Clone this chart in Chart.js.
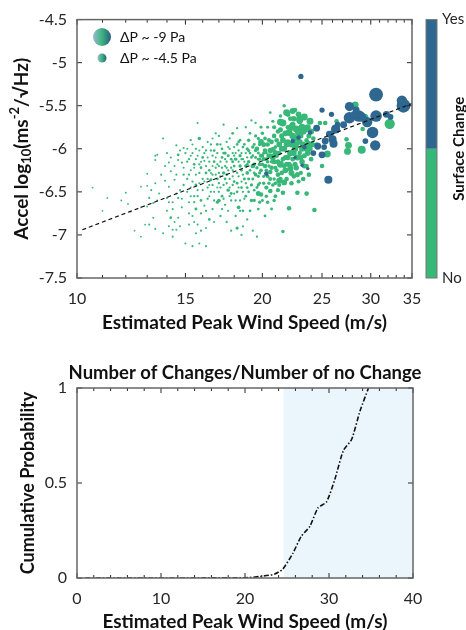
<!DOCTYPE html>
<html>
<head>
<meta charset="utf-8">
<script src="https://cdn.jsdelivr.net/npm/chart.js@4.4.1/dist/chart.umd.min.js"></script>
<style>
  body { margin: 0; background: #fff; }
  canvas { position: absolute; left: 0; }
  #top { top: 0; }
  #bottom { top: 340px; }
</style>
</head>
<body>
<canvas id="top" width="466" height="340"></canvas>
<canvas id="bottom" width="466" height="290"></canvas>
<script>
// [wind m/s, accel log10, pressure drop |dP| Pa]
var noChangePts = [
  [10.6,-6.45,0.8],[11.0,-6.72,0.8],[11.2,-6.57,0.8],[11.8,-6.6,0.8],[12.0,-6.51,0.8],[12.2,-6.73,0.8],
  [12.4,-6.95,0.8],[12.7,-7.02,0.8],[12.7,-6.44,0.8],[12.1,-6.64,0.8],[12.7,-6.68,0.8],[13.0,-6.43,0.8],
  [13.0,-6.29,0.8],[13.0,-6.67,0.8],[12.9,-6.88,0.8],
  [13.1,-6.57,0.9],[13.3,-6.63,0.9],[13.5,-6.6,0.9],[13.4,-6.08,0.9],[13.8,-5.88,0.9],[13.5,-6.07,0.9],
  [14.0,-6.05,0.9],[14.6,-6.07,1.2],[14.9,-5.99,0.9],[13.4,-6.13,0.9],[14.1,-6.16,0.9],[14.6,-6.13,0.9],
  [14.8,-6.16,1.0],[14.2,-6.26,0.9],[14.5,-6.3,0.9],[13.7,-6.3,0.9],[13.4,-6.4,0.9],[13.2,-6.48,0.9],
  [13.9,-6.37,0.9],[14.1,-6.44,0.9],[14.4,-6.36,0.9],[14.0,-6.57,0.9],[14.3,-6.62,0.9],[14.6,-6.57,1.0],
  [14.8,-6.68,0.9],[14.3,-6.7,0.9],[14.2,-6.8,1.2],[14.6,-6.8,0.9],[13.3,-6.8,0.9],[13.1,-6.88,0.9],
  [14.1,-6.9,0.9],[14.3,-6.94,0.9],[13.4,-6.93,0.9],[13.8,-6.98,0.9],[14.3,-7.02,0.9],[14.5,-6.94,0.9],
  [14.5,-5.96,0.9],[14.9,-6.22,0.9],[14.7,-6.48,0.9],[13.6,-6.52,0.9],[14.9,-6.42,1.0],[14.0,-6.72,0.9],
  [14.2,-6.1,0.9],[14.4,-6.2,0.9],[14.7,-6.02,0.9],[14.9,-6.3,1.0],[14.5,-6.52,0.9],[14.8,-6.58,0.9],
  [14.1,-6.62,0.9],[14.4,-6.85,0.9],[13.9,-6.2,0.9],[14.7,-6.9,0.9],
  [15.0,-7.1,0.9],[15.4,-7.13,0.9],[15.8,-7.1,0.9],[16.2,-7.13,0.9],[15.7,-5.7,0.9],[15.8,-5.88,1.5],
  [16.6,-5.88,0.9],[15.1,-6.0,0.9],[15.2,-6.12,1.0],[15.3,-6.25,0.9],[15.1,-6.35,1.0],[15.4,-6.05,0.9],
  [15.5,-6.18,1.2],[15.6,-6.3,0.9],[15.3,-6.45,0.9],[15.5,-6.55,1.0],[15.2,-6.62,0.9],[15.6,-6.7,1.3],
  [15.4,-6.78,0.9],[15.7,-6.88,0.9],[15.9,-6.95,1.0],[15.8,-6.4,0.9],[15.9,-6.22,1.2],[15.7,-6.08,0.9],
  [16.0,-5.98,1.0],[16.1,-6.14,0.9],[16.2,-6.28,1.2],[16.0,-6.48,0.9],[16.3,-6.58,1.0],[16.1,-6.66,0.9],
  [16.4,-6.82,1.2],[16.2,-6.92,0.9],[16.5,-6.02,1.0],[16.6,-6.2,0.9],[16.5,-6.36,1.3],[16.7,-6.5,0.9],
  [16.6,-6.7,1.0],[16.8,-6.1,0.9],[16.9,-5.95,1.2],[16.8,-6.3,1.0],[16.9,-6.45,0.9],[16.7,-6.85,0.9],
  [16.4,-6.42,0.9],[15.9,-6.6,1.2],[16.3,-5.92,0.9],[15.6,-6.98,0.9],[16.9,-6.62,1.4],[16.0,-6.35,1.0],
  [15.2,-6.88,0.9],
  [15.1,-6.15,1.0],[15.3,-6.08,0.9],[15.2,-6.3,0.9],[15.4,-6.38,1.0],[15.5,-6.22,0.9],[15.6,-6.12,0.9],
  [15.3,-6.55,0.9],[15.5,-6.62,1.0],[15.7,-6.48,0.9],[15.8,-6.28,1.0],[15.9,-6.15,0.9],[15.1,-6.5,0.9],
  [15.6,-6.42,1.2],[15.4,-5.95,0.9],[15.8,-6.02,0.9],[15.9,-6.75,1.0],[15.2,-6.75,0.9],[15.5,-6.85,0.9],
  [16.1,-6.05,1.0],[16.3,-6.1,0.9],[16.2,-6.2,1.0],[16.4,-6.25,1.2],[16.1,-6.38,0.9],[16.3,-6.45,1.0],
  [16.6,-6.08,1.0],[16.7,-6.15,1.2],[16.5,-6.28,0.9],[16.8,-6.22,1.0],[16.6,-6.42,1.0],[16.9,-6.35,1.2],
  [16.4,-6.55,0.9],[16.7,-6.6,1.0],[16.2,-6.72,1.0],[16.9,-6.05,1.0],[16.8,-5.82,1.0],
  [15.0,-6.05,1.0],[15.3,-5.9,1.0],[15.6,-6.0,1.0],[15.8,-6.18,1.0],[16.0,-6.1,1.2],[16.2,-6.02,1.0],
  [16.4,-6.15,1.0],[16.5,-5.95,1.0],[16.7,-6.02,1.2],[16.9,-6.18,1.0],[16.3,-6.35,1.0],[16.6,-6.3,1.0],
  [15.7,-6.55,1.0],[16.5,-6.5,1.0],
  [17.0,-5.85,1.0],[17.2,-6.0,1.2],[17.1,-6.15,1.0],[17.3,-6.28,1.4],[17.0,-6.4,1.0],[17.2,-6.55,1.2],
  [17.4,-6.65,1.0],[17.1,-6.78,1.0],[17.5,-5.92,1.0],[17.6,-6.08,1.3],[17.5,-6.22,1.0],[17.7,-6.35,1.0],
  [17.6,-6.48,1.5],[17.8,-6.6,1.0],[17.5,-6.85,1.0],[17.9,-5.82,1.2],[18.0,-5.98,1.0],[18.1,-6.12,1.5],
  [17.9,-6.25,1.0],[18.2,-6.4,1.2],[18.0,-6.52,1.0],[18.3,-6.68,1.6],[18.1,-6.78,1.0],[18.4,-5.9,1.2],
  [18.5,-6.05,1.0],[18.4,-6.2,1.5],[18.6,-6.3,1.0],[18.5,-6.45,1.2],[18.7,-6.58,1.0],[18.8,-5.75,1.0],
  [18.9,-6.0,1.4],[18.7,-6.15,1.0],[18.9,-6.28,1.6],[18.8,-6.4,1.0],[18.6,-6.72,1.2],[18.9,-6.82,1.0],
  [17.3,-5.72,1.0],[18.2,-5.76,1.0],[17.8,-6.95,1.0],[18.5,-7.0,1.0],[17.4,-6.12,1.0],[18.3,-6.32,1.0],
  [17.0,-6.6,1.6],[18.6,-6.9,1.0],[18.2,-6.92,1.4],
  [17.0,-6.2,1.0],[17.2,-6.1,1.2],[17.1,-6.32,1.0],[17.3,-6.42,1.0],[17.2,-6.22,1.0],[17.4,-6.05,1.4],
  [17.5,-6.15,1.0],[17.4,-6.35,1.2],[17.6,-6.25,1.0],[17.7,-6.0,1.0],[17.8,-6.12,1.2],[17.7,-6.45,1.0],
  [17.9,-6.32,1.0],[17.8,-6.52,1.3],[17.6,-6.72,1.0],[17.3,-6.58,1.0],[17.9,-6.05,1.0],[17.0,-6.5,1.0],
  [17.5,-6.4,1.0],[17.2,-6.7,1.0],[17.7,-5.88,1.0],
  [17.1,-5.95,1.0],[17.3,-6.05,1.2],[17.4,-6.2,1.0],[17.6,-5.98,1.0],[17.8,-6.22,1.0],[17.9,-6.15,1.3],
  [17.0,-6.28,1.0],[17.5,-6.3,1.2],[17.9,-6.42,1.0],[17.1,-6.45,1.0],[17.7,-6.55,1.0],
  [18.0,-6.2,1.2],[18.1,-6.05,1.0],[18.2,-6.28,1.0],[18.0,-6.38,1.2],[18.3,-6.15,1.0],[18.4,-6.08,1.4],
  [18.3,-6.45,1.0],[18.5,-6.25,1.2],[18.6,-6.12,1.0],[18.7,-6.35,1.3],[18.6,-6.5,1.0],[18.8,-6.2,1.5],
  [18.9,-6.1,1.0],[18.8,-6.55,1.2],[18.4,-6.6,1.0],[18.1,-6.6,1.0],[18.7,-5.95,1.2],[18.3,-5.92,1.2],
  [18.0,-6.08,1.0],[18.2,-5.95,1.2],[18.3,-6.02,1.0],[18.5,-6.12,1.0],[18.6,-5.98,1.2],[18.8,-6.05,1.0],
  [18.9,-6.18,1.2],[18.2,-6.5,1.2],[18.5,-6.38,1.0],[18.9,-6.45,1.2],[18.4,-6.72,1.0],
  [19.0,-5.9,1.5],[19.1,-6.05,1.2],[19.2,-5.67,1.0],[19.5,-5.7,1.0],[19.3,-6.2,2.0],[19.0,-6.35,1.3],
  [19.4,-6.48,1.2],[19.2,-6.6,1.5],[19.5,-5.85,1.4],[19.6,-6.0,2.0],[19.7,-6.12,1.3],[19.5,-6.3,1.6],
  [19.8,-6.4,1.2],[19.9,-6.53,2.0],[19.7,-6.7,1.2],[19.3,-6.95,1.0],[19.6,-7.02,1.0],[20.0,-5.82,1.5],
  [20.1,-5.95,2.2],[20.0,-6.08,1.6],[20.2,-6.2,2.0],[20.1,-6.32,1.4],[20.3,-6.45,1.8],[20.0,-6.6,1.3],
  [20.4,-5.75,1.3],[20.5,-5.9,1.8],[20.6,-6.02,2.4],[20.4,-6.15,1.6],[20.6,-6.27,2.0],[20.5,-6.4,1.5],
  [20.6,-6.49,2.0],[20.8,-5.68,1.4],[20.9,-5.85,2.0],[21.0,-5.98,1.6],[20.8,-6.1,2.5],[21.0,-6.22,1.8],
  [20.9,-6.35,1.5],[21.0,-6.55,1.6],[20.7,-6.7,1.3],[19.8,-6.18,1.6],[20.3,-6.05,1.3],[20.7,-6.15,1.5],
  [19.4,-5.95,1.3],[20.2,-6.78,1.2],[19.9,-5.75,1.3],[20.6,-5.58,1.2],
  [19.0,-6.15,1.5],[19.1,-6.25,1.2],[19.2,-6.42,1.4],[19.3,-6.08,1.2],[19.4,-6.18,1.6],[19.5,-6.1,1.3],
  [19.6,-6.22,1.5],[19.7,-6.32,1.4],[19.8,-5.95,1.5],[19.9,-6.08,1.8],[19.6,-6.45,1.3],[19.1,-5.82,1.2],
  [19.3,-5.98,1.5],[19.8,-6.28,1.4],[19.0,-6.5,1.2],[19.4,-6.6,1.4],[19.7,-5.88,1.4],[19.9,-6.25,1.6],
  [19.0,-6.02,1.4],[19.2,-6.1,1.2],[19.4,-6.28,1.2],[19.5,-6.02,1.5],[19.7,-6.05,1.3],[19.8,-6.12,1.5],
  [19.3,-6.35,1.3],[19.7,-6.42,1.4],[19.1,-6.72,1.2],[19.8,-6.62,1.4],[19.7,-6.52,2.2],[19.9,-5.92,2.5],
  [20.1,-6.12,1.8],[20.2,-6.02,2.0],[20.3,-6.25,1.6],[20.4,-5.95,2.0],[20.5,-6.08,2.2],[20.7,-5.92,2.0],
  [20.8,-6.0,1.8],[20.7,-6.22,2.0],[20.9,-6.15,2.2],[21.0,-6.05,2.5],[20.2,-5.88,1.6],[20.6,-6.35,1.8],
  [20.9,-5.75,1.8],[20.3,-6.55,1.5],[21.0,-6.4,1.6],
  [20.0,-6.18,1.6],[20.1,-6.05,1.4],[20.3,-6.12,1.6],[20.5,-6.2,1.5],[20.7,-6.08,1.8],[20.9,-6.02,1.6],
  [20.1,-6.4,1.5],[20.4,-6.32,1.6],[20.8,-6.42,1.6],[20.4,-6.62,1.5],[20.9,-6.6,1.5],
  [21.2,-5.8,2.0],[21.3,-5.95,2.5],[21.1,-6.08,2.0],[21.4,-6.18,3.0],[21.2,-6.3,2.0],[21.3,-6.42,1.8],
  [21.6,-5.7,3.0],[21.5,-5.85,2.2],[21.7,-6.0,2.6],[21.6,-6.12,2.0],[21.8,-6.25,2.5],[21.7,-6.39,2.5],
  [21.6,-6.51,2.0],[21.7,-5.5,1.5],[21.6,-6.96,1.5],[21.9,-5.58,3.0],[22.0,-5.75,2.0],[22.1,-5.81,3.0],
  [22.0,-5.92,2.4],[22.2,-6.05,2.8],[22.1,-6.18,2.2],[22.3,-6.28,2.6],[22.1,-6.69,2.0],[22.6,-5.55,2.0],
  [22.4,-5.72,2.5],[22.7,-5.77,3.0],[22.5,-5.9,2.2],[22.6,-6.0,2.8],[22.4,-6.12,2.0],[22.7,-6.22,2.4],
  [22.5,-6.32,2.0],[22.8,-6.51,2.0],[23.0,-5.68,2.5],[23.4,-5.63,3.0],[23.1,-5.85,2.2],[23.3,-5.95,2.6],
  [23.0,-6.05,2.0],[23.2,-6.15,2.4],[23.5,-5.77,3.0],[23.6,-5.9,2.0],[23.4,-6.08,2.2],[23.6,-6.2,2.0],
  [23.6,-6.52,2.0],[23.9,-5.68,3.0],[23.8,-5.85,2.2],[23.9,-6.0,2.4],[24.0,-6.12,2.0],[24.3,-6.71,2.0],
  [24.2,-5.88,2.0],[22.2,-5.65,2.0],[21.4,-5.62,1.5],[22.9,-6.38,1.8],[21.9,-6.35,2.0],[23.1,-6.28,1.8],
  [21.1,-5.9,2.0],[21.2,-6.15,2.2],[21.1,-6.25,1.8],[21.3,-6.05,2.0],[21.4,-5.78,2.2],[21.5,-6.0,2.4],
  [21.5,-6.28,2.0],[21.6,-5.9,2.5],[21.8,-6.1,2.2],[21.9,-5.95,2.6],[21.9,-6.18,2.2],[21.2,-6.48,1.8],
  [21.4,-6.35,2.0],[21.8,-5.82,2.5],[21.7,-6.2,2.0],
  [22.0,-6.1,2.4],[22.3,-5.95,2.6],[22.2,-6.2,2.2],[22.4,-5.85,2.8],[22.5,-6.05,2.5],[22.7,-5.95,2.4],
  [22.8,-6.1,2.6],[22.6,-6.18,2.2],[22.9,-5.8,2.8],[23.0,-5.92,2.5],[23.2,-6.0,2.6],[23.1,-6.1,2.2],
  [23.3,-5.8,2.8],[23.5,-6.0,2.4],[23.4,-6.2,2.2],[23.7,-6.05,2.5],[22.3,-6.4,2.0],[22.8,-6.3,2.2],
  [23.3,-6.35,2.0],[22.0,-5.6,2.2],[22.9,-5.6,2.5],[23.7,-5.75,2.6],[24.1,-5.95,2.4],[24.0,-5.8,2.6],
  [22.5,-5.65,2.4],[23.8,-6.3,2.0],
  [21.4,-5.69,3.0],[22.3,-5.75,3.0],[23.0,-5.66,3.2],[22.9,-5.81,3.0],[22.4,-5.56,2.6],[21.3,-6.37,2.6],
  [22.2,-6.23,2.6],[23.8,-5.95,3.0],[22.6,-5.88,3.0],[23.2,-5.75,3.0],
  [24.8,-5.7,2.0],[25.3,-5.7,2.0],[25.5,-6.06,3.0],[25.9,-5.82,2.5],[26.4,-5.68,2.0],[27.4,-5.89,2.0],
  [27.6,-5.96,3.0],[27.5,-6.03,3.0],[28.3,-5.49,3.0],[29.3,-5.64,3.5],[29.1,-5.77,2.0],[29.0,-6.01,3.5],
  [32.2,-5.71,4.5],[24.5,-5.95,2.0],[25.0,-6.2,2.0]
];
var changePts = [
  [23.1,-5.16,2.3],[30.6,-5.37,6.0],[33.9,-5.5,6.0],[33.7,-5.44,4.5],[27.7,-5.51,4.0],[27.7,-5.64,5.0],
  [28.7,-5.62,5.0],[29.6,-5.69,4.5],[30.6,-5.62,5.0],[31.8,-5.6,3.0],[32.3,-5.63,2.5],[30.2,-5.81,5.0],
  [30.5,-5.96,4.5],[29.4,-5.91,2.5],[25.0,-5.55,2.3],[25.9,-5.6,2.3],[27.1,-5.72,3.0],[26.3,-5.77,4.0],
  [25.7,-5.83,3.0],[24.5,-5.76,3.0],[26.0,-5.89,3.5],[25.3,-5.91,3.0],[26.1,-5.94,3.5],[24.6,-5.97,3.0],
  [25.0,-6.07,3.0],[24.2,-6.05,2.5],[25.6,-6.36,3.5],[25.2,-5.98,2.5],[22.4,-5.91,2.0],[22.9,-5.87,2.0],
  [23.4,-5.98,2.0],[23.2,-6.19,1.5],[23.7,-6.23,1.5],[22.6,-6.1,1.5],[20.3,-6.29,2.0],[23.9,-5.81,2.0],
  [28.2,-5.6,3.0],[29.0,-5.63,4.0],[26.5,-5.72,2.5],[28.4,-5.55,3.0]
];
var fitWind = [10.2, 35];
var fitAccel = [-6.94, -5.475];
var windTicks = [10, 15, 20, 25, 30, 35];
var windMinor = [11,12,13,14,16,17,18,19,21,22,23,24,26,27,28,29,31,32,33,34];
var legendDrops = [9, 4.5];
var legendLabels = ['ΔP ~ -9 Pa', 'ΔP ~ -4.5 Pa'];

var cumWind = [1, 20, 21.8, 23.5, 24.5, 25.7, 26.7, 27.7, 28.7, 29.7, 30.7, 31.7, 32.7, 33.7, 34.7];
var cumProb = [0, 0.001, 0.008, 0.02, 0.047, 0.13, 0.22, 0.27, 0.37, 0.40, 0.52, 0.67, 0.73, 0.88, 1.0];
var shadeFrom = 24.6;
var cumMinor = [2,4,6,8,12,14,16,18,22,24,26,28,32,34,36,38];

var GREEN = '#38b878';
var BLUE = '#2e6790';
var FONT = 'Lato, "Open Sans", sans-serif';
var TXT = '#262626';

function bubbles(pts) {
  return pts.map(p => ({x: p[0], y: p[1], r: p[2] * 1.15}));
}

function frame(minorX) {
  return {
    id: 'frame',
    afterDatasetsDraw(chart) {
      var ctx = chart.ctx, a = chart.chartArea, x = chart.scales.x, y = chart.scales.y;
      ctx.save();
      ctx.strokeStyle = TXT;
      ctx.lineWidth = 1;
      function seg(x1, y1, x2, y2) { ctx.beginPath(); ctx.moveTo(x1, y1); ctx.lineTo(x2, y2); ctx.stroke(); }
      x.ticks.forEach(t => { var p = x.getPixelForValue(t.value); seg(p, a.bottom, p, a.bottom - 5); seg(p, a.top, p, a.top + 5); });
      minorX.forEach(v => { var p = x.getPixelForValue(v); seg(p, a.bottom, p, a.bottom - 3); seg(p, a.top, p, a.top + 3); });
      y.ticks.forEach(t => { var p = y.getPixelForValue(t.value); seg(a.left, p, a.left + 5, p); seg(a.right, p, a.right - 5, p); });
      ctx.strokeStyle = '#666';
      ctx.lineWidth = 1.5;
      ctx.strokeRect(a.left, a.top, a.right - a.left, a.bottom - a.top);
      ctx.restore();
    }
  };
}

var topDecor = {
  id: 'topDecor',
  afterDraw(chart) {
    var ctx = chart.ctx, a = chart.chartArea;
    ctx.save();
    // legend
    var cx = 102, rows = [37, 58];
    legendDrops.forEach((d, i) => {
      var g = ctx.createLinearGradient(cx - d, 0, cx + d, 0);
      g.addColorStop(0, '#9cb9d4');
      g.addColorStop(0.5, '#3bb47c');
      g.addColorStop(1, '#2b5d85');
      ctx.fillStyle = g;
      ctx.beginPath(); ctx.arc(cx, rows[i], d, 0, Math.PI * 2); ctx.fill();
      ctx.fillStyle = '#111';
      ctx.font = '14px ' + FONT;
      ctx.textBaseline = 'middle';
      ctx.textAlign = 'left';
      ctx.fillText(legendLabels[i], 120, rows[i]);
    });
    // colorbar
    var bx = 426, bw = 11, mid = (a.top + a.bottom) / 2;
    ctx.fillStyle = BLUE; ctx.fillRect(bx, a.top, bw, mid - a.top);
    ctx.fillStyle = GREEN; ctx.fillRect(bx, mid, bw, a.bottom - mid);
    ctx.strokeStyle = '#777'; ctx.lineWidth = 1;
    ctx.strokeRect(bx, a.top, bw, a.bottom - a.top);
    ctx.fillStyle = TXT;
    ctx.font = '15px ' + FONT;
    ctx.fillText('Yes', 442, a.top);
    ctx.fillText('No', 442, a.bottom);
    ctx.save();
    ctx.translate(459, mid);
    ctx.rotate(-Math.PI / 2);
    ctx.textAlign = 'center';
    ctx.font = 'bold 15px ' + FONT;
    ctx.fillStyle = '#111';
    ctx.fillText('Surface Change', 0, 0);
    ctx.restore();
    // y title with sub/superscript
    ctx.save();
    ctx.translate(22, (a.top + a.bottom) / 2);
    ctx.rotate(-Math.PI / 2);
    ctx.fillStyle = '#111';
    ctx.textBaseline = 'middle';
    var parts = [['Accel log', 19, 0], ['10', 13, 5], ['(ms', 19, 0], ['-2', 13, -7], ['/\u221AHz)', 19, 0]];
    var total = 0;
    parts.forEach(p => { ctx.font = 'bold ' + p[1] + 'px ' + FONT; total += ctx.measureText(p[0]).width; });
    var px = -total / 2;
    ctx.textAlign = 'left';
    parts.forEach(p => { ctx.font = 'bold ' + p[1] + 'px ' + FONT; ctx.fillText(p[0], px, p[2]); px += ctx.measureText(p[0]).width; });
    ctx.restore();
    ctx.restore();
  }
};

var shade = {
  id: 'shade',
  beforeDatasetsDraw(chart) {
    var ctx = chart.ctx, a = chart.chartArea, x = chart.scales.x;
    ctx.save();
    ctx.fillStyle = '#eaf6fc';
    var p = x.getPixelForValue(shadeFrom);
    ctx.fillRect(p, a.top, a.right - p, a.bottom - a.top);
    ctx.restore();
  },
  afterDraw(chart) {
    var ctx = chart.ctx;
    ctx.save();
    ctx.font = 'bold 18.5px ' + FONT;
    ctx.fillStyle = '#111';
    ctx.textAlign = 'center';
    ctx.textBaseline = 'middle';
    ctx.fillText('Number of Changes/Number of no Change', 245, 33);
    ctx.restore();
  }
};

var tickFont = {family: FONT, size: 16};
var fmt = v => String(Math.round(v * 100) / 100);

new Chart(document.getElementById('top'), {
  type: 'bubble',
  data: {
    datasets: [
      {
        type: 'scatter',
        data: fitWind.map((w, i) => ({x: w, y: fitAccel[i]})),
        showLine: true,
        borderColor: '#111',
        borderWidth: 1.2,
        borderDash: [4, 3],
        pointRadius: 0,
        order: 0
      },
      {data: bubbles(changePts), backgroundColor: BLUE, borderWidth: 0, order: 1},
      {data: bubbles(noChangePts), backgroundColor: GREEN, borderWidth: 0, order: 2}
    ]
  },
  options: {
    responsive: false,
    animation: false,
    events: [],
    layout: {padding: {top: 18, right: 54, left: 0, bottom: 0}},
    plugins: {legend: {display: false}, tooltip: {enabled: false}},
    scales: {
      x: {
        type: 'logarithmic', min: 10, max: 35,
        afterBuildTicks: s => { s.ticks = windTicks.map(v => ({value: v})); },
        afterFit: s => { s.height = 62; },
        grid: {display: false, drawTicks: false},
        border: {display: false},
        ticks: {font: tickFont, color: TXT, padding: 11, maxRotation: 0, callback: fmt},
        title: {display: true, text: 'Estimated Peak Wind Speed (m/s)', color: '#111',
          font: {family: FONT, size: 19, weight: 'bold', lineHeight: 1}, padding: {top: 0, bottom: 7.5}}
      },
      y: {
        min: -7.5, max: -4.5,
        ticks: {stepSize: 0.5, font: tickFont, color: TXT, padding: 10, callback: fmt},
        afterFit: s => { s.width = 77; },
        grid: {display: false, drawTicks: false},
        border: {display: false}
      }
    }
  },
  plugins: [frame(windMinor), topDecor]
});

new Chart(document.getElementById('bottom'), {
  type: 'scatter',
  data: {
    datasets: [{
      data: cumWind.map((w, i) => ({x: w, y: cumProb[i]})),
      showLine: true,
      borderColor: '#111',
      borderWidth: 1.6,
      borderDash: [5, 2, 1.5, 2],
      pointRadius: 0,
      tension: 0.2
    }]
  },
  options: {
    responsive: false,
    animation: false,
    events: [],
    layout: {padding: {top: 48, right: 53, left: 0, bottom: 0}},
    plugins: {legend: {display: false}, tooltip: {enabled: false}},
    scales: {
      x: {
        min: 0, max: 40,
        ticks: {stepSize: 10, font: tickFont, color: TXT, padding: 11, maxRotation: 0, callback: fmt},
        afterFit: s => { s.height = 52; },
        grid: {display: false, drawTicks: false},
        border: {display: false},
        title: {display: true, text: 'Estimated Peak Wind Speed (m/s)', color: '#111',
          font: {family: FONT, size: 19, weight: 'bold', lineHeight: 1}, padding: {top: 0, bottom: -1}}
      },
      y: {
        min: 0, max: 1,
        ticks: {stepSize: 0.5, font: tickFont, color: TXT, padding: 10, callback: fmt},
        afterFit: s => { s.width = 77; },
        grid: {display: false, drawTicks: false},
        border: {display: false},
        title: {display: true, text: 'Cumulative Probability', color: '#111',
          font: {family: FONT, size: 18, weight: 'bold', lineHeight: 1}, padding: {top: 19, bottom: 0}}
      }
    }
  },
  plugins: [shade, frame(cumMinor)]
});
</script>
</body>
</html>
